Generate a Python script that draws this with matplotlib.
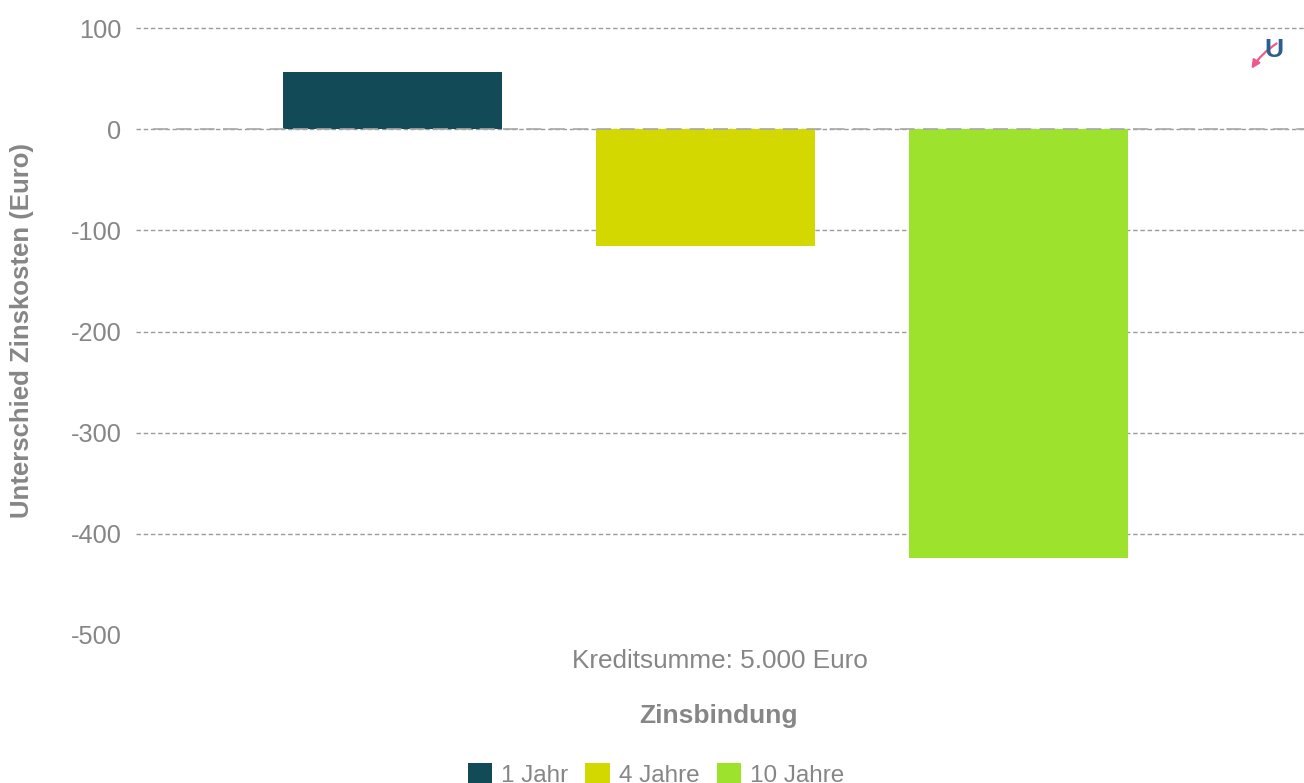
"""Zinskosten difference by Zinsbindung."""
import matplotlib
matplotlib.use('Agg')
import matplotlib.pyplot as plt
from matplotlib.patches import FancyArrowPatch

plt.rcParams['font.family'] = ['Liberation Sans', 'DejaVu Sans']
plt.rcParams['axes.unicode_minus'] = False

categories = ['1 Jahr', '4 Jahre', '10 Jahre']
values = [57, -115, -424]
colors = ['#124b57', '#d3d800', '#9de32d']
yticks = [100, 0, -100, -200, -300, -400, -500]
gray = '#868686'

W, H = 1304, 783
fig = plt.figure(figsize=(W / 100, H / 100), dpi=100)
ax = fig.add_axes([136 / W, 1 - 635 / H, (W - 136) / W, (635 - 28) / H])

bars = ax.bar(range(3), values, width=0.7, color=colors, zorder=3)
ax.set_xlim(-0.8195, 2.912)
ax.set_ylim(-500, 100)
ax.set_yticks(yticks)
ax.set_xticks([])
ax.tick_params(axis='y', length=0, pad=10.5, labelsize=18.3, labelcolor=gray)
for s in ax.spines.values():
    s.set_visible(False)

# grid lines, none at the bottom
for y in yticks[:-1]:
    ax.axhline(y, color='#9a9a9a', lw=1, dashes=(3.2, 2), zorder=1, clip_on=False)
# the zero line has a second longer dash on top
ax.plot([-0.765, 2.912], [0, 0], color='#a8a8a8', lw=1.2, dashes=(9, 5), zorder=4)

fig.text(22 / W, 1 - 330 / H, 'Unterschied Zinskosten (Euro)', rotation=90, ha='center',
         va='center', fontsize=18.5, fontweight='bold', color=gray)
fig.text(720 / W, 1 - 661 / H, 'Kreditsumme: 5.000 Euro', ha='center', va='center',
         fontsize=18.8, color=gray)
fig.text(719 / W, 1 - 716 / H, 'Zinsbindung', ha='center', va='center',
         fontsize=19, fontweight='bold', color=gray)

leg = fig.legend(bars, categories, ncol=3, loc='center', bbox_to_anchor=(656 / W, 1 - 775 / H),
                 frameon=False, fontsize=17.5, labelcolor=gray, handlelength=1.0,
                 handleheight=1.0, handletextpad=0.37, columnspacing=0.72,
                 borderpad=0, borderaxespad=0)

# small logo top right
fig.text(1274 / W, 1 - 50 / H, 'U', ha='center', va='center', fontsize=19, color='#2a5f8f',
         fontweight='bold')
fig.add_artist(FancyArrowPatch((1279 / W, 1 - 42 / H), (1250 / W, 1 - 71 / H),
                               transform=fig.transFigure, connectionstyle='arc3,rad=0.12',
                               arrowstyle='-|>', mutation_scale=12, color='#ee5a8c', lw=1.6))

fig.savefig('out.png', dpi=100)
